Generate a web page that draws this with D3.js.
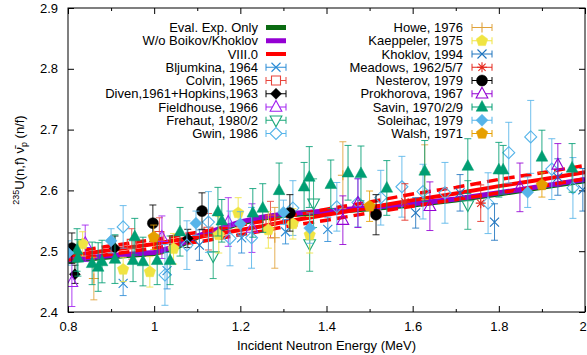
<!DOCTYPE html>
<html>
<head>
<meta charset="utf-8">
<script src="https://cdn.jsdelivr.net/npm/d3@7"></script>
<style>
  body { margin: 0; background: #fff; }
  svg text { font-family: "Liberation Sans", Arial, sans-serif; font-size: 13px; fill: #000; }
</style>
</head>
<body>
<svg id="chart" width="587" height="355"></svg>
<script>
// ---- evaluated curves (energy in MeV, prompt nu-bar) ----
const curveE      = [0.8, 0.9, 1.0, 1.05, 1.1, 1.2, 1.25, 1.3, 1.4, 1.5, 1.6, 1.7, 1.8, 1.9, 2.0];
const evalExpOnly = [2.484, 2.491, 2.496, 2.506, 2.523, 2.546, 2.554, 2.559, 2.564, 2.570, 2.576, 2.584, 2.594, 2.605, 2.616];
const woBoikov    = [2.486, 2.493, 2.498, 2.508, 2.525, 2.548, 2.556, 2.561, 2.566, 2.572, 2.578, 2.586, 2.596, 2.607, 2.618];
const viii0       = [2.492, 2.502, 2.512, 2.518, 2.523, 2.535, 2.541, 2.548, 2.560, 2.572, 2.584, 2.595, 2.607, 2.618, 2.630];
const viii0Upper  = [2.498, 2.509, 2.519, 2.525, 2.531, 2.543, 2.549, 2.556, 2.569, 2.581, 2.594, 2.605, 2.618, 2.629, 2.641];
const viii0Lower  = [2.486, 2.495, 2.505, 2.511, 2.515, 2.527, 2.533, 2.540, 2.551, 2.563, 2.574, 2.585, 2.596, 2.607, 2.619];

// ---- measurements: [energy, nu-bar, uncertainty] ----
const bljumkina  = [[0.928,2.447,0.02],[1.03,2.468,0.03],[1.203,2.522,0.025],[1.305,2.532,0.02],[1.403,2.536,0.02]];
const colvin     = [[0.948,2.512,0.025],[1.012,2.525,0.03],[1.126,2.532,0.03],[1.27,2.552,0.03]];
const diven      = [[0.816,2.462,0.015],[0.909,2.505,0.02],[1.078,2.521,0.015]];
const fieldhouse = [[0.809,2.449,0.04],[0.84,2.513,0.03],[1.018,2.523,0.035],[1.172,2.548,0.04],[1.227,2.538,0.04]];
const frehaut    = [[1.137,2.492,0.037],[1.361,2.512,0.045],[1.37,2.579,0.04],[1.728,2.576,0.04]];
const gwin       = [[0.928,2.54,0.035],[1.025,2.461,0.05],[1.076,2.51,0.04],[1.126,2.548,0.05],[1.176,2.521,0.045],
                    [1.226,2.522,0.05],[1.322,2.571,0.045],[1.424,2.573,0.04],[1.473,2.58,0.04],[1.526,2.588,0.045],
                    [1.575,2.606,0.05],[1.624,2.598,0.045],[1.675,2.596,0.05],[1.775,2.579,0.05],[1.823,2.662,0.05],
                    [1.874,2.688,0.06],[1.923,2.635,0.05],[1.972,2.604,0.05]];
const howe       = [[0.86,2.455,0.035],[1.28,2.522,0.05],[1.438,2.625,0.055],[1.628,2.63,0.045]];
const kaeppeler  = [[0.834,2.512,0.02],[0.928,2.47,0.02],[0.99,2.466,0.025],[1.045,2.504,0.025],[1.15,2.527,0.03],
                    [1.195,2.563,0.025],[1.265,2.535,0.03],[1.322,2.545,0.025],[1.361,2.527,0.03]];
const khoklov    = [[1.105,2.51,0.025],[1.607,2.563,0.025],[1.71,2.596,0.03],[1.79,2.548,0.03],[1.937,2.622,0.03],[1.995,2.601,0.035]];
const meadows    = [[1.582,2.581,0.03],[1.758,2.579,0.03]];
const nesterov   = [[0.809,2.505,0.025],[0.997,2.546,0.03],[1.111,2.566,0.03],[1.315,2.563,0.03],[1.515,2.56,0.033]];
const prokhorova = [[1.438,2.551,0.04],[1.473,2.579,0.04],[1.64,2.574,0.04],[1.849,2.605,0.04],[1.937,2.642,0.035]];
const savin      = [[0.821,2.502,0.035],[0.823,2.489,0.03],[0.856,2.48,0.035],[0.87,2.474,0.04],[0.879,2.483,0.035],
                    [0.909,2.487,0.04],[0.951,2.485,0.035],[0.955,2.524,0.03],[0.974,2.483,0.04],[1.007,2.485,0.04],
                    [1.037,2.485,0.04],[1.06,2.532,0.04],[1.148,2.565,0.04],[1.157,2.55,0.035],[1.229,2.563,0.04],
                    [1.252,2.571,0.04],[1.29,2.6,0.045],[1.348,2.606,0.04],[1.36,2.622,0.05],[1.41,2.61,0.04],
                    [1.45,2.629,0.045],[1.48,2.628,0.045],[1.54,2.604,0.045],[1.628,2.632,0.05],[1.728,2.64,0.045],
                    [1.8,2.634,0.045],[1.81,2.634,0.04],[1.9,2.655,0.044],[1.97,2.637,0.04]];
const soleihac   = [[0.8,2.497,0.02],[0.9,2.517,0.02],[1.097,2.546,0.02],[1.2,2.545,0.02],[1.3,2.564,0.02],
                    [1.361,2.538,0.025],[1.867,2.597,0.025]];
const walsh      = [[0.999,2.523,0.02],[1.5,2.574,0.025],[1.9,2.609,0.02]];

// ---- axis ticks ----
const xTicks      = [0.8, 1.0, 1.2, 1.4, 1.6, 1.8, 2.0];
const xTickLabels = ["0.8", "1", "1.2", "1.4", "1.6", "1.8", "2"];
const xMinor      = [0.9, 1.1, 1.3, 1.5, 1.7, 1.9];
const yTicks      = [2.4, 2.5, 2.6, 2.7, 2.8, 2.9];
const yTickLabels = ["2.4", "2.5", "2.6", "2.7", "2.8", "2.9"];

// ---- marker shapes (centred at 0,0) ----
const shapes = {
  times:    r => `M${-r},${-r}L${r},${r}M${-r},${r}L${r},${-r}`,
  plus:     r => `M${-r},0L${r},0M0,${-r}L0,${r}`,
  asterisk: r => { const s = r * 0.72; return `M${-r},0L${r},0M0,${-r}L0,${r}M${-s},${-s}L${s},${s}M${-s},${s}L${s},${-s}`; },
  square:   r => `M${-r},${-r}H${r}V${r}H${-r}Z`,
  diamond:  r => `M0,${-r}L${r},0L0,${r}L${-r},0Z`,
  triangle: r => `M0,${-r}L${r*0.9},${r*0.65}L${-r*0.9},${r*0.65}Z`,
  triDown:  r => `M0,${r}L${r*0.9},${-r*0.65}L${-r*0.9},${-r*0.65}Z`,
  circle:   r => { const p = d3.path(); p.arc(0, 0, r, 0, 2 * Math.PI); return p.toString(); },
  pentagon: r => d3.range(5).map(i => {
                  const a = -Math.PI / 2 + i * 2 * Math.PI / 5;
                  return (i ? "L" : "M") + (r * Math.cos(a)).toFixed(2) + "," + (r * Math.sin(a)).toFixed(2);
                }).join("") + "Z"
};

const series = [
  { name: "Bljumkina, 1964",            data: bljumkina,  color: "#2b8cd6", shape: "times",    r: 4.5, fill: false },
  { name: "Colvin, 1965",               data: colvin,     color: "#e8453c", shape: "square",   r: 4.5, fill: false },
  { name: "Diven,1961+Hopkins,1963",    data: diven,      color: "#000000", shape: "diamond",  r: 5.5, fill: true  },
  { name: "Fieldhouse, 1966",           data: fieldhouse, color: "#a020f0", shape: "triangle", r: 6.5, fill: false },
  { name: "Frehaut, 1980/2",            data: frehaut,    color: "#1aa779", shape: "triDown",  r: 6.5, fill: false },
  { name: "Gwin, 1986",                 data: gwin,       color: "#56b4e9", shape: "diamond",  r: 6,   fill: false },
  { name: "Howe, 1976",                 data: howe,       color: "#e0a23a", shape: "plus",     r: 5,   fill: false },
  { name: "Kaeppeler, 1975",            data: kaeppeler,  color: "#f0e442", shape: "pentagon", r: 6,   fill: true  },
  { name: "Khoklov, 1994",              data: khoklov,    color: "#1f74be", shape: "times",    r: 4.5, fill: false },
  { name: "Meadows, 1962/5/7",          data: meadows,    color: "#e5281c", shape: "asterisk", r: 5,   fill: false },
  { name: "Nesterov, 1979",             data: nesterov,   color: "#000000", shape: "circle",   r: 5.5, fill: true  },
  { name: "Prokhorova, 1967",           data: prokhorova, color: "#9400d3", shape: "triangle", r: 6.5, fill: false },
  { name: "Savin, 1970/2/9",            data: savin,      color: "#009e73", shape: "triangle", r: 6.5, fill: true  },
  { name: "Soleihac, 1979",             data: soleihac,   color: "#56b4e9", shape: "diamond",  r: 6,   fill: true  },
  { name: "Walsh, 1971",                data: walsh,      color: "#e69f00", shape: "pentagon", r: 6,   fill: true  }
];

const curves = [
  { name: "Eval. Exp. Only",     values: evalExpOnly, color: "#0b6b12", width: 5 },
  { name: "W/o Boikov/Khoklov",  values: woBoikov,    color: "#9400d3", width: 5 },
  { name: "VIII.0",              values: viii0,       color: "#ff0000", width: 4 }
];

// ---- layout ----
const svg = d3.select("#chart");
const pLeft = 68, pRight = 585, pTop = 8, pBottom = 312;
const x = d3.scaleLinear().domain([0.8, 2.0]).range([pLeft, pRight]);
const y = d3.scaleLinear().domain([2.4, 2.9]).range([pBottom, pTop]);

svg.append("defs").append("clipPath").attr("id", "plotClip")
  .append("rect").attr("x", pLeft).attr("y", pTop).attr("width", pRight - pLeft).attr("height", pBottom - pTop);

// ---- axes with inward ticks on all four sides ----
const axisG = svg.append("g");
const xAxisBottom = axisG.append("g").attr("transform", `translate(0,${pBottom})`)
  .call(d3.axisBottom(x).tickValues(xTicks).tickFormat((d, i) => xTickLabels[i]).tickSizeInner(-6).tickSizeOuter(0).tickPadding(10));
axisG.append("g").attr("transform", `translate(0,${pBottom})`)
  .call(d3.axisBottom(x).tickValues(xMinor).tickFormat("").tickSizeInner(-3).tickSizeOuter(0));
axisG.append("g").attr("transform", `translate(0,${pTop})`)
  .call(d3.axisTop(x).tickValues(xTicks).tickFormat("").tickSizeInner(-6).tickSizeOuter(0));
axisG.append("g").attr("transform", `translate(0,${pTop})`)
  .call(d3.axisTop(x).tickValues(xMinor).tickFormat("").tickSizeInner(-3).tickSizeOuter(0));
axisG.append("g").attr("transform", `translate(${pLeft},0)`)
  .call(d3.axisLeft(y).tickValues(yTicks).tickFormat((d, i) => yTickLabels[i]).tickSizeInner(-6).tickSizeOuter(0).tickPadding(10));
axisG.append("g").attr("transform", `translate(${pRight},0)`)
  .call(d3.axisRight(y).tickValues(yTicks).tickFormat("").tickSizeInner(-6).tickSizeOuter(0));
axisG.selectAll(".domain").remove();
axisG.selectAll(".tick line").attr("stroke", "#000");
axisG.selectAll(".tick text").style("font-size", "13px").attr("fill", "#000");
// the last label sits at the window edge; nudge it inward so it stays whole
xAxisBottom.selectAll(".tick text").filter((d, i) => i === xTicks.length - 1).attr("dx", "-2.5");

// ---- plot contents ----
const plot = svg.append("g").attr("clip-path", "url(#plotClip)");
const line = d3.line().x((d, i) => x(curveE[i])).y(d => y(d));

curves.forEach(c => {
  plot.append("path").attr("d", line(c.values))
    .attr("fill", "none").attr("stroke", c.color).attr("stroke-width", c.width);
});
[viii0Upper, viii0Lower].forEach(v => {
  plot.append("path").attr("d", line(v))
    .attr("fill", "none").attr("stroke", "#ff0000").attr("stroke-width", 3.5)
    .attr("stroke-dasharray", "11,6");
});

const cap = 3.5;
series.forEach(s => {
  const g = plot.append("g");
  const bars = g.selectAll("g.bar").data(s.data).join("g").attr("class", "bar")
    .attr("stroke", s.color).attr("stroke-width", 1).attr("stroke-opacity", 0.85);
  bars.append("line")
    .attr("x1", d => x(d[0])).attr("x2", d => x(d[0]))
    .attr("y1", d => y(d[1] - d[2])).attr("y2", d => y(d[1] + d[2]));
  bars.append("line")
    .attr("x1", d => x(d[0]) - cap).attr("x2", d => x(d[0]) + cap)
    .attr("y1", d => y(d[1] + d[2])).attr("y2", d => y(d[1] + d[2]));
  bars.append("line")
    .attr("x1", d => x(d[0]) - cap).attr("x2", d => x(d[0]) + cap)
    .attr("y1", d => y(d[1] - d[2])).attr("y2", d => y(d[1] - d[2]));
  g.selectAll("path.mk").data(s.data).join("path").attr("class", "mk")
    .attr("transform", d => `translate(${x(d[0])},${y(d[1])})`)
    .attr("d", shapes[s.shape](s.r))
    .attr("fill", s.fill ? s.color : "none")
    .attr("stroke", s.color).attr("stroke-width", s.fill ? 0.5 : 1.1);
});

// ---- frame ----
svg.append("rect").attr("x", pLeft).attr("y", pTop).attr("width", pRight - pLeft).attr("height", pBottom - pTop)
  .attr("fill", "none").attr("stroke", "#000").attr("stroke-width", 1);

// ---- legend (two columns) ----
const rowY = i => 27.5 + i * 13.25;
const legendItems = curves.map(c => ({ kind: "curve", ...c })).concat(series.map(s => ({ kind: "data", ...s })));
const cols = [{ textX: 258, x0: 266, x1: 286 }, { textX: 463, x0: 472, x1: 492 }];
legendItems.forEach((it, k) => {
  const col = cols[k < 9 ? 0 : 1];
  const row = k < 9 ? k : k - 9;
  const cy = rowY(row);
  const g = svg.append("g");
  g.append("text").attr("x", col.textX).attr("y", cy).attr("dy", "0.36em")
    .attr("text-anchor", "end").text(it.name);
  if (it.kind === "curve") {
    g.append("line").attr("x1", col.x0).attr("x2", col.x1).attr("y1", cy).attr("y2", cy)
      .attr("stroke", it.color).attr("stroke-width", it.width);
  } else {
    const gb = g.append("g").attr("stroke", it.color).attr("stroke-width", 1);
    gb.append("line").attr("x1", col.x0).attr("x2", col.x1).attr("y1", cy).attr("y2", cy);
    gb.append("line").attr("x1", col.x0).attr("x2", col.x0).attr("y1", cy - cap).attr("y2", cy + cap);
    gb.append("line").attr("x1", col.x1).attr("x2", col.x1).attr("y1", cy - cap).attr("y2", cy + cap);
    g.append("path").attr("transform", `translate(${(col.x0 + col.x1) / 2},${cy})`)
      .attr("d", shapes[it.shape](it.r))
      .attr("fill", it.fill ? it.color : "#fff")
      .attr("stroke", it.color).attr("stroke-width", it.fill ? 0.5 : 1.1);
  }
});

// ---- axis titles ----
svg.append("text").attr("x", (pLeft + pRight) / 2).attr("y", 350).attr("text-anchor", "middle")
  .text("Incident Neutron Energy (MeV)");

const yt = svg.append("text").attr("transform", "translate(24,160) rotate(-90)").attr("text-anchor", "middle");
yt.append("tspan").attr("font-size", "9px").attr("dy", "-5").text("235");
yt.append("tspan").attr("dy", "5").text("U(n,f) ν\u0304");
yt.append("tspan").attr("font-size", "9px").attr("dy", "3").text("p");
yt.append("tspan").attr("dy", "-3").text(" (n/f)");
</script>
</body>
</html>
